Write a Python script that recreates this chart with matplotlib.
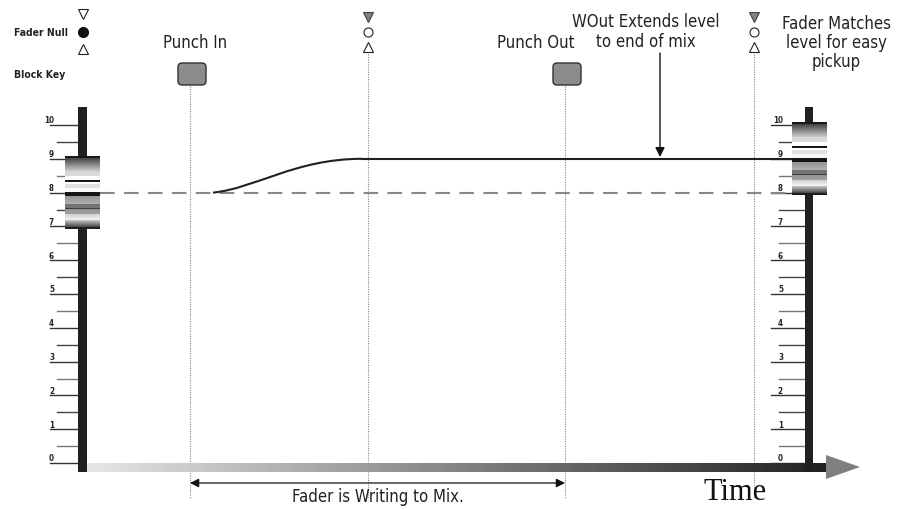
import numpy as np
import matplotlib
matplotlib.use("Agg")
import matplotlib.pyplot as plt
from matplotlib.path import Path
from matplotlib.patches import PathPatch, FancyBboxPatch, Polygon

plt.rcParams['font.family'] = ['DejaVu Sans']
plt.rcParams['font.stretch'] = 'condensed'

# fader scale
scale_levels = list(range(0, 11))
scale_labels = [str(v) for v in scale_levels]

# mix data (x = time, y = fader level)
level_start = 8.0
level_end = 9.0
punch_in = 190
punch_out = 565
null_times = [368, 754]
ramp_start = 213
ramp_end = 362
mix_end = 792
write_start = punch_in
write_end = punch_out

# pixel <-> level helpers for placing decorations
PX = 33.8
Y0 = 464.0
def lv(py):
    return (Y0 - py) / PX

fig = plt.figure(figsize=(8.97, 5.10), dpi=100)
ax = fig.add_axes([0, 0, 1, 1])
ax.set_xlim(0, 897)
ax.set_ylim(lv(510), lv(0))
ax.axis('off')

DARK = '#231f20'
GRAY = '#858585'
TXT = dict(fontsize=12, color='#222222', fontstretch='condensed', fontweight='light')

# cap stripe pattern (rows top -> bottom)
def cap_pattern():
    segs = [(0, 2, 0.1, 0.1), (2, 15, 0.28, 0.78), (15, 20, 0.84, 0.86),
            (20, 24, 1.0, 1.0), (24, 26, 0.1, 0.1), (26, 28, 1.0, 1.0),
            (28, 32, 0.88, 0.88), (32, 36, 0.97, 0.97), (36, 41, 0.08, 0.08),
            (41, 49, 0.58, 0.68), (49, 53, 0.45, 0.45), (53, 54, 0.25, 0.25),
            (54, 59, 0.58, 0.62), (59, 65, 0.82, 0.95), (65, 72, 0.75, 0.3),
            (72, 74, 0.12, 0.12)]
    rows = []
    for a, b, g0, g1 in segs:
        rows.extend(np.linspace(g0, g1, b - a))
    return np.array(rows).reshape(-1, 1)

cap = cap_pattern()

def draw_fader(xbar0, xbar1, ybar_top, ybar_bot, cap_x0, cap_x1, cap_level,
               tick_major_x0, tick_minor_x0, label_x):
    ax.fill_between([xbar0, xbar1], lv(ybar_bot), lv(ybar_top), color=DARK, lw=0, zorder=3)
    for v in scale_levels:
        ax.plot([tick_major_x0, xbar0], [v, v], color='#333333', lw=1.0, zorder=2)
        ax.text(label_x, v + 0.02, scale_labels[v], ha='right', va='bottom', fontsize=5.8,
                fontweight='bold', fontstretch='condensed', color='#222222', zorder=2)
        if v < 10:
            ax.plot([tick_minor_x0, xbar0], [v + 0.5, v + 0.5],
                    color='#444444' if v % 2 else '#777777', lw=1.0, zorder=2)
    ax.imshow(cap, cmap='gray', vmin=0, vmax=1, aspect='auto',
              extent=(cap_x0, cap_x1, cap_level - 36 / PX, cap_level + 37 / PX),
              interpolation='nearest', zorder=5)

# time axis bar with gradient
grad = np.linspace(0.9, 0.13, 256).reshape(1, -1)
ax.imshow(grad, cmap='gray', vmin=0, vmax=1, aspect='auto',
          extent=(87, 826, lv(473), lv(464)), zorder=3)
ax.add_patch(Polygon([[826, lv(456)], [826, lv(480)], [860, lv(468)]],
                     closed=True, color='#7f7f7f', lw=0, zorder=3))

draw_fader(78, 87, 108, 473, 65, 100, level_start, 50, 57, 54)
draw_fader(805, 813, 108, 473, 792, 827, level_end, 771, 779, 783)

# vertical dotted guides
for t in [punch_in, punch_out]:
    ax.plot([t, t], [lv(87), lv(500)], color=GRAY, lw=0.8, ls=(0, (1, 1.2)), zorder=1)
for t in null_times:
    ax.plot([t, t], [lv(55), lv(500)], color=GRAY, lw=0.8, ls=(0, (1, 1.2)), zorder=1)

# original level (dashed)
ax.plot([100, mix_end], [level_start, level_start], color='#888888', lw=1.5,
        ls=(0, (7, 4.5)), zorder=2)

# written level: ramp then hold
verts = [(ramp_start, level_start), (255, level_start + 0.12),
         (295, level_end), (ramp_end, level_end)]
ramp = Path(verts, [Path.MOVETO, Path.CURVE4, Path.CURVE4, Path.CURVE4])
ax.add_patch(PathPatch(ramp, fc='none', ec=DARK, lw=1.5, zorder=4))
ax.plot([ramp_end, mix_end], [level_end, level_end], color=DARK, lw=1.5, zorder=4)

# fader null markers
ax.plot(83, lv(15), marker='v', ms=7, mfc='white', mec='#222222', mew=0.8)
ax.plot(83, lv(33), marker='o', ms=7, mfc='#111111', mec='#111111')
ax.plot(83, lv(50), marker='^', ms=7, mfc='white', mec='#222222', mew=0.8)
for t in null_times:
    ax.plot(t, lv(18), marker='v', ms=7, mfc='#808080', mec='#444444', mew=0.8)
    ax.plot(t, lv(33), marker='o', ms=6.5, mfc='white', mec='#222222', mew=0.8)
    ax.plot(t, lv(48), marker='^', ms=7, mfc='white', mec='#222222', mew=0.8)

# block keys
for t in [punch_in, punch_out]:
    ax.add_patch(FancyBboxPatch((t - 12, lv(86)), 28, 22 / PX,
                                boxstyle='round,pad=0,rounding_size=4',
                                mutation_aspect=1 / PX, fc='#8c8c8c', ec='#333333',
                                lw=1.0, zorder=3))

# labels
ax.text(14, lv(33), 'Fader Null', ha='left', va='center', fontsize=7.5,
        fontweight='bold', fontstretch='condensed', color='#222222')
ax.text(14, lv(75), 'Block Key', ha='left', va='center', fontsize=7.5,
        fontweight='bold', fontstretch='condensed', color='#222222')
ax.text(195, lv(43), 'Punch In', ha='center', va='center', **TXT)
ax.text(536, lv(43), 'Punch Out', ha='center', va='center', **TXT)
ax.text(646, lv(32), 'WOut Extends level\nto end of mix', ha='center', va='center',
        linespacing=1.1, **TXT)
ax.text(836, lv(43), 'Fader Matches\nlevel for easy\npickup', ha='center', va='center',
        linespacing=1.1, **TXT)
ax.text(378, lv(497), 'Fader is Writing to Mix.', ha='center', va='center', **TXT)
ax.text(735, lv(493), 'Time', ha='center', va='center', fontsize=22,
        family=['Liberation Serif', 'DejaVu Serif'], color='#111111')

# arrows
ax.annotate('', xy=(660, lv(158)), xytext=(660, lv(54)),
            arrowprops=dict(arrowstyle='-|>', color='#111111', lw=1.0,
                            mutation_scale=14, shrinkA=0, shrinkB=0))
ax.annotate('', xy=(write_start, lv(484)), xytext=(write_end, lv(484)),
            arrowprops=dict(arrowstyle='<|-|>', color='#111111', lw=0.9,
                            mutation_scale=13, shrinkA=0, shrinkB=0))

fig.savefig('out.png', dpi=100)
